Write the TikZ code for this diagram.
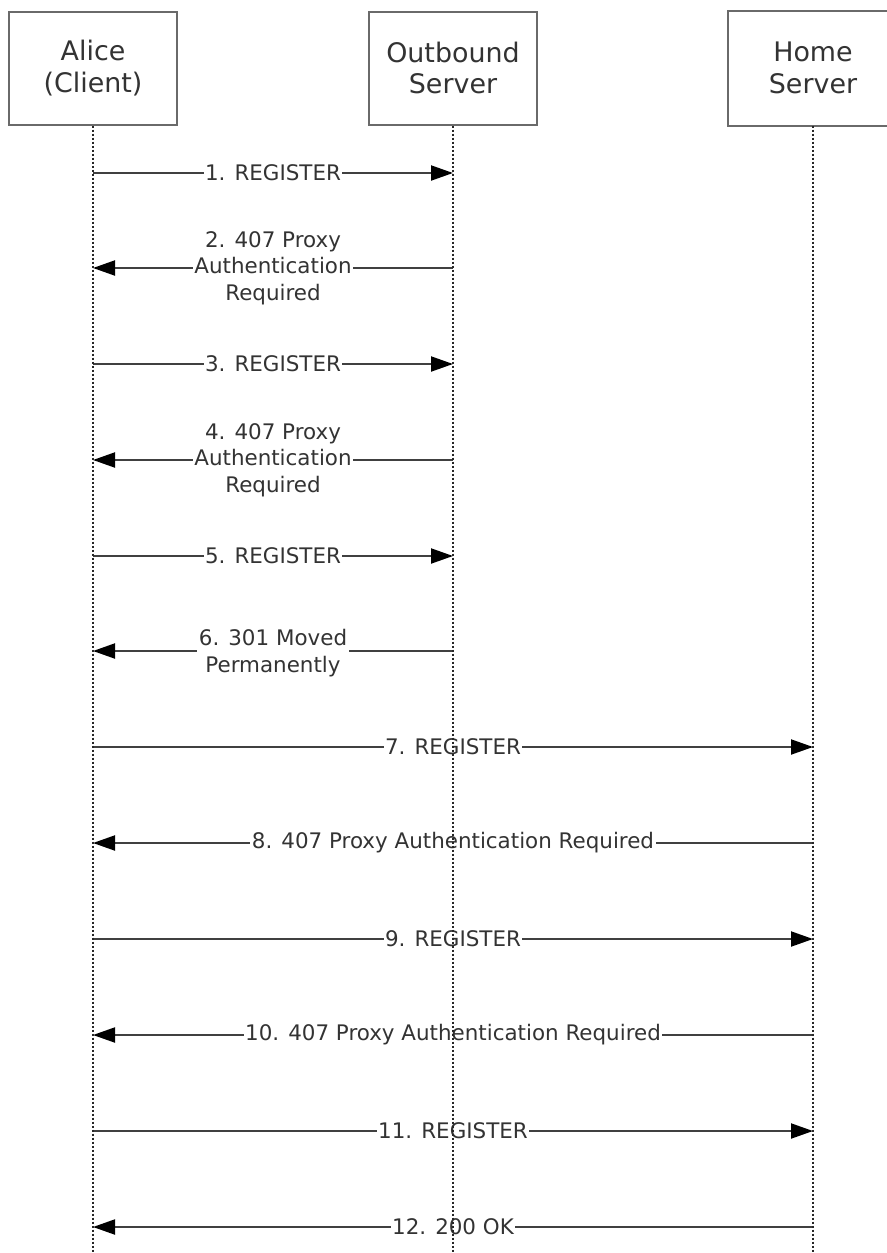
\documentclass[tikz,border=0pt]{standalone}
\usepackage{fontspec}
\setmainfont{DejaVu Sans}
\usetikzlibrary{arrows.meta}
\definecolor{boxgray}{HTML}{6A6A6A}
\definecolor{linegray}{HTML}{404040}
\definecolor{txt}{HTML}{333333}
\begin{document}
\begin{tikzpicture}[x=1bp,y=-1bp,
  actor/.style={draw=boxgray, line width=2bp, minimum width=168bp, minimum height=113bp,
    inner sep=0pt, align=center, font=\fontsize{27}{32}\selectfont, text=txt},
  boxline/.style={draw=boxgray, line width=2bp},
  life/.style={draw=black!85, line width=1.3bp, dash pattern=on 2bp off 2bp},
  msg/.style={draw=linegray, line width=2bp, -{Triangle[length=22bp,width=15bp,color=black]}},
  lbl/.style={fill=white, inner xsep=1.5bp, inner ysep=0bp, align=center,
    font=\fontsize{21.5}{26.5}\selectfont, text=txt}]
\useasboundingbox (0,0) rectangle (887,1253);
\fill[white] (0,0) rectangle (887,1253);
% actors
\node[actor] (A) at (93,68) {Alice\\(Client)};
\node[actor] (O) at (453,68) {Outbound\\Server};
\node[actor, draw=none] (H) at (813,68) {Home\\Server};
\coordinate (Hne) at (H.north -| 920,0);
\coordinate (Hse) at (H.south -| 920,0);
\draw[boxline] (Hne) -- (H.north west) -- (H.south west) -- (Hse);
% lifeline ends and message points
\coordinate (Ae) at (93,1260);
\coordinate (Oe) at (453,1260);
\coordinate (He) at (813,1260);
\foreach \i/\y in {1/173,2/268,3/364,4/460,5/556,6/651,7/747,8/843,9/939,10/1035,11/1131,12/1227}{
  \coordinate (a\i) at (93,\y);
  \coordinate (o\i) at (453,\y);
  \coordinate (h\i) at (813,\y);
}
% messages
\draw[msg] (a1) -- node[lbl] (m1) {1. REGISTER} (o1);
\draw[msg] (o2) -- node[lbl] (m2) {2. 407 Proxy\\Authentication\\Required} (a2);
\draw[msg] (a3) -- node[lbl] (m3) {3. REGISTER} (o3);
\draw[msg] (o4) -- node[lbl] (m4) {4. 407 Proxy\\Authentication\\Required} (a4);
\draw[msg] (a5) -- node[lbl] (m5) {5. REGISTER} (o5);
\draw[msg] (o6) -- node[lbl, text depth=0pt] (m6) {6. 301 Moved\\Permanently} (a6);
\draw[msg] (a7) -- node[lbl] (m7) {7. REGISTER} (h7);
\draw[msg] (h8) -- node[lbl] (m8) {8. 407 Proxy Authentication Required} (a8);
\draw[msg] (a9) -- node[lbl] (m9) {9. REGISTER} (h9);
\draw[msg] (h10) -- node[lbl] (m10) {10. 407 Proxy Authentication Required} (a10);
\draw[msg] (a11) -- node[lbl] (m11) {11. REGISTER} (h11);
\draw[msg] (h12) -- node[lbl] (m12) {12. 200 OK} (a12);
% lifelines (drawn on top, as in the reference)
\draw[life] (A.south) -- (Ae);
\draw[life] (O.south) -- (Oe);
\draw[life] (H.south) -- (He);
\end{tikzpicture}
\end{document}
